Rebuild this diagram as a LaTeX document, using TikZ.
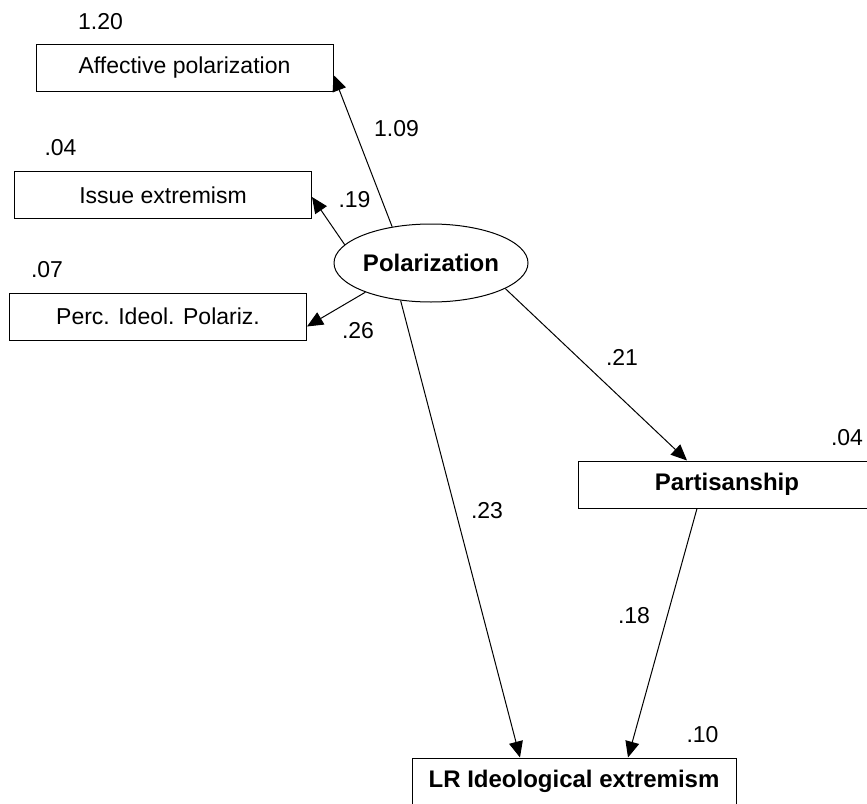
\documentclass[tikz,border=0pt]{standalone}
\usepackage{fontspec}
\setmainfont{Liberation Sans}
\usetikzlibrary{arrows.meta,shapes.geometric,calc}

\begin{document}
\begin{tikzpicture}[x=0.5pt,y=-0.5pt,
    caja/.style={draw, line width=0.5pt, minimum width=148.5pt, minimum height=23.5pt, inner sep=0pt, font=\fontsize{11.5}{13}\selectfont},
    cajab/.style={caja, font=\fontsize{12}{14}\selectfont\bfseries},
    latente/.style={draw, ellipse, line width=0.5pt, minimum width=97pt, minimum height=39pt, inner sep=0pt, font=\fontsize{12}{14}\selectfont\bfseries},
    coef/.style={inner sep=0pt, font=\fontsize{11.5}{13}\selectfont},
    flecha/.style={line width=0.5pt, -{Triangle[length=8pt,width=7pt]}}]

    % Marco de la figura
    \useasboundingbox (0,0) rectangle (867,803);
    \clip (0,0) rectangle (867,803);

    % Indicadores
    \node[caja] (aff) at (184.5,68) {Affective polarization};
    \node[caja] (iss) at (163,195) {Issue extremism};
    \node[caja] (perc) at (158,316.5) {Perc. Ideol. Polariz.};

    % Variable latente y dependientes
    \node[latente] (pol) at (431,263) {Polarization};
    \node[cajab, minimum width=149pt] (part) at (727,484.5) {Partisanship};
    \node[cajab, minimum width=162pt] (lr) at (574,781.5) {LR Ideological extremism};

    % Varianzas
    \node[coef] (vaff) at (100.5,22) {1.20};
    \node[coef] (viss) at (60.5,147.5) {.04};
    \node[coef] (vperc) at (47,269.5) {.07};
    \node[coef] (vpart) at (847,438) {.04};
    \node[coef] (vlr) at (702.5,735) {.10};

    % Cargas
    \draw[flecha] (pol.137) -- ($(aff.east)+(0,7)$);
    \draw[flecha] (pol.168) -- ($(iss.east)+(0,2)$);
    \draw[flecha] (pol.204) -- ($(perc.east)+(0,10)$);
    \node[coef] (caff) at (396.5,128.5) {1.09};
    \node[coef] (ciss) at (354.5,200) {.19};
    \node[coef] (cperc) at (358,330.5) {.26};

    % Efectos estructurales
    \draw[flecha] (pol.341) -- ($(part.north)+(-40,0)$);
    \draw[flecha] (pol.231) -- ($(lr.north)+(-54,0)$);
    \draw[flecha] ($(part.south)+(-30,0)$) -- ($(lr.north)+(54,0)$);
    \node[coef] (cpart) at (622,357) {.21};
    \node[coef] (clr) at (487,511) {.23};
    \node[coef] (cpl) at (634,616) {.18};

\end{tikzpicture}
\end{document}
